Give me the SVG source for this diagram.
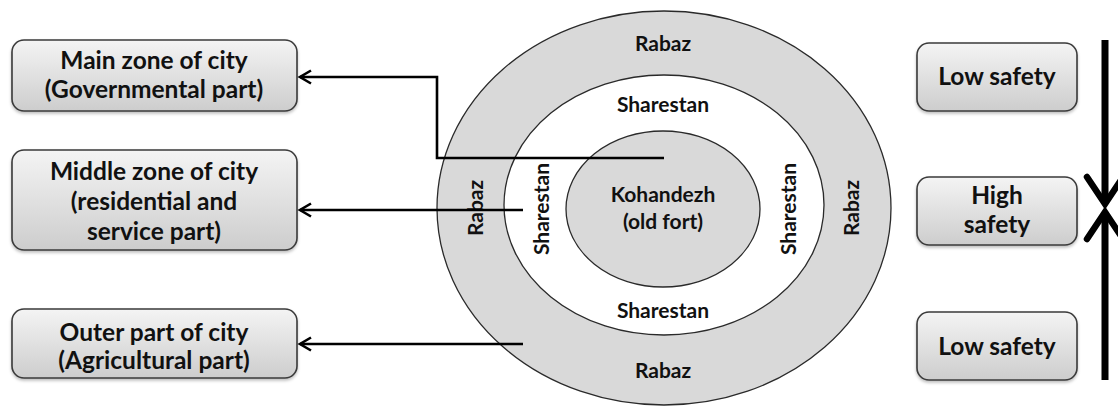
<svg xmlns="http://www.w3.org/2000/svg" width="1118" height="407" viewBox="0 0 1118 407">
  <defs>
    <linearGradient id="boxGrad" x1="0" y1="0" x2="0" y2="1">
      <stop offset="0" stop-color="#f4f4f4"/>
      <stop offset="1" stop-color="#cdcdcd"/>
    </linearGradient>
    <filter id="shadow" x="-10%" y="-10%" width="120%" height="130%">
      <feDropShadow dx="0" dy="2" stdDeviation="1.5" flood-color="#000" flood-opacity="0.25"/>
    </filter>
    <marker id="chev" markerUnits="userSpaceOnUse" viewBox="-14 -9 16 18" markerWidth="16" markerHeight="18" refX="0" refY="0" orient="auto" overflow="visible">
      <path d="M-11,-6.5 L0,0 L-11,6.5" fill="none" stroke="#000" stroke-width="2.6" stroke-linejoin="miter"/>
    </marker>
    <marker id="bigChev" markerUnits="userSpaceOnUse" viewBox="-30 -22 34 44" markerWidth="34" markerHeight="44" refX="0" refY="0" orient="auto" overflow="visible">
      <path d="M-27,-18 L0,0 L-27,18" fill="none" stroke="#000" stroke-width="6.5" stroke-linecap="round" stroke-linejoin="miter"/>
    </marker>
  </defs>
  <style>
    .box { fill: url(#boxGrad); stroke: #3a3a3a; stroke-width: 1.6; filter: url(#shadow); }
    .lbl { font-family: Lato, "Liberation Sans", sans-serif; font-weight: bold; font-size: 24.5px; fill: #111; text-anchor: middle; }
    .ring { font-family: Lato, "Liberation Sans", sans-serif; font-weight: bold; font-size: 21px; fill: #111; text-anchor: middle; }
    .ell { stroke: #2a2a2a; stroke-width: 1.3; }
    .conn { fill: none; stroke: #000; stroke-width: 2.6; }
    .thick { fill: none; stroke: #000; stroke-width: 7; }
  </style>

  <rect width="1118" height="407" fill="#ffffff"/>

  <!-- concentric city diagram -->
  <g id="rabaz">
    <ellipse class="ell" cx="664" cy="208" rx="227" ry="197" fill="#d9d9d9"/>
    <text class="ring" x="663" y="51">Rabaz</text>
    <text class="ring" x="663" y="378">Rabaz</text>
    <text class="ring" transform="translate(483,208) rotate(-90)">Rabaz</text>
    <text class="ring" transform="translate(859,208) rotate(-90)">Rabaz</text>
  </g>
  <g id="sharestan">
    <ellipse class="ell" cx="664" cy="205" rx="160" ry="130" fill="#ffffff"/>
    <text class="ring" x="663" y="112">Sharestan</text>
    <text class="ring" x="663" y="318">Sharestan</text>
    <text class="ring" transform="translate(549,209) rotate(-90)">Sharestan</text>
    <text class="ring" transform="translate(796,209) rotate(-90)">Sharestan</text>
  </g>
  <g id="kohandezh">
    <ellipse class="ell" cx="663" cy="209" rx="97" ry="78" fill="#d9d9d9"/>
    <text class="ring" x="663" y="202">Kohandezh</text>
    <text class="ring" x="663" y="229">(old fort)</text>
  </g>

  <!-- left zone boxes -->
  <g id="main-zone">
    <rect class="box" x="12" y="40" width="285" height="71" rx="12"/>
    <text class="lbl" x="154" y="69">Main zone of city</text>
    <text class="lbl" x="154" y="98">(Governmental part)</text>
  </g>
  <g id="middle-zone">
    <rect class="box" x="12" y="150" width="285" height="100" rx="12"/>
    <text class="lbl" x="154" y="180">Middle zone of city</text>
    <text class="lbl" x="154" y="210">(residential and</text>
    <text class="lbl" x="154" y="240">service part)</text>
  </g>
  <g id="outer-zone">
    <rect class="box" x="12" y="309" width="285" height="69" rx="12"/>
    <text class="lbl" x="154" y="341">Outer part of city</text>
    <text class="lbl" x="154" y="369">(Agricultural part)</text>
  </g>

  <!-- right safety boxes -->
  <g id="low-safety-top">
    <rect class="box" x="917" y="43" width="160" height="68" rx="12"/>
    <text class="lbl" x="997" y="85">Low safety</text>
  </g>
  <g id="high-safety">
    <rect class="box" x="917" y="177" width="160" height="68" rx="12"/>
    <text class="lbl" x="997" y="204">High</text>
    <text class="lbl" x="997" y="233">safety</text>
  </g>
  <g id="low-safety-bottom">
    <rect class="box" x="917" y="312" width="160" height="68" rx="12"/>
    <text class="lbl" x="997" y="355">Low safety</text>
  </g>

  <!-- connectors -->
  <g id="connectors">
    <path class="conn" d="M664,158 H437 V77 H300" marker-end="url(#chev)"/>
    <path class="conn" d="M523,210 H300" marker-end="url(#chev)"/>
    <path class="conn" d="M523,344 H300" marker-end="url(#chev)"/>
    <path class="thick" d="M1105,40 V204" marker-end="url(#bigChev)"/>
    <path class="thick" d="M1105,380 V212" marker-end="url(#bigChev)"/>
  </g>
</svg>
